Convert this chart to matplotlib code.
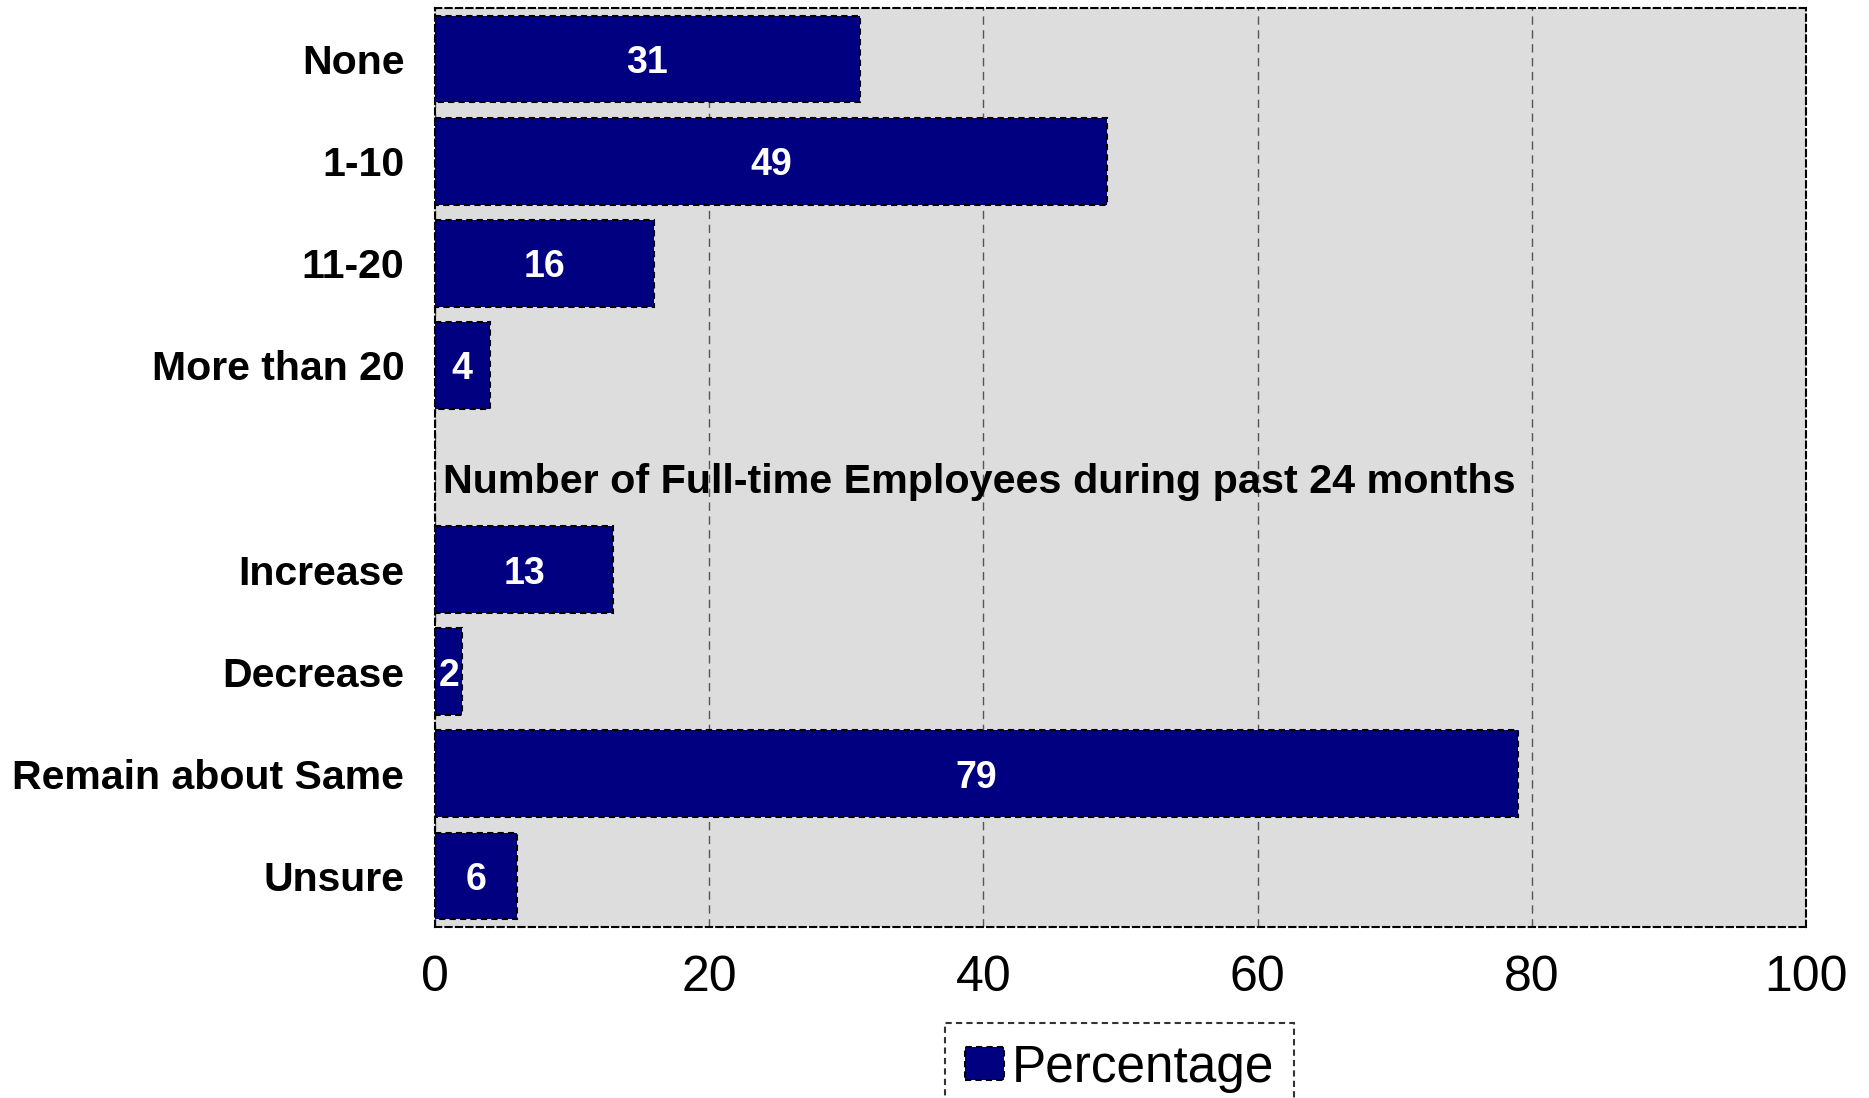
import matplotlib
matplotlib.use("Agg")
import matplotlib.pyplot as plt
from matplotlib.patches import Patch

categories = ["None", "1-10", "11-20", "More than 20", "",
              "Increase", "Decrease", "Remain about Same", "Unsure"]
values = [31, 49, 16, 4, None, 13, 2, 79, 6]
section_title = "Number of Full-time Employees during past 24 months"
xticks = [0, 20, 40, 60, 80, 100]
series_name = "Percentage"

plt.rcParams['font.family'] = ['Liberation Sans', 'DejaVu Sans']

fig = plt.figure(figsize=(18.69, 10.98), dpi=100)
ax = fig.add_axes([0.2327, 0.1557, 0.7336, 0.837])
ax.set_facecolor("#DDDDDD")

ypos = list(range(len(categories)))
for y, v in zip(ypos, values):
    if v is None:
        continue
    ax.barh(y, v, height=0.85, color="#000080", edgecolor="black",
            linestyle=(0, (3, 2)), linewidth=1.5, zorder=3)
    ax.text(v / 2, y, str(v), color="white", fontsize=27, fontweight="bold",
            ha="center", va="center_baseline", zorder=4)

ax.text(0.6, 4.1, section_title, fontsize=29.7, fontweight="bold",
        ha="left", va="center_baseline", zorder=4)

ax.set_xlim(0, 100)
ax.set_ylim(len(categories) - 0.5, -0.5)
ax.set_xticks(xticks)
ax.set_xticklabels([str(t) for t in xticks], fontsize=36)
ax.set_yticks(ypos)
ax.set_yticklabels(categories, fontsize=29.5, fontweight="bold")
ax.tick_params(axis="both", length=0)
ax.tick_params(axis="y", pad=22)
ax.tick_params(axis="x", pad=20)

ax.grid(axis="x", linestyle=(0, (6, 4)), color="#555555", linewidth=1.0, zorder=1)
ax.grid(axis="y", visible=False)
ax.set_axisbelow(True)

for sp in ax.spines.values():
    sp.set_linestyle((0, (3, 2)))
    sp.set_linewidth(1.5)
    sp.set_color("black")

handle = Patch(facecolor="#000080", edgecolor="black", linestyle=(0, (3, 2)), linewidth=1.5)
leg = fig.legend([handle], [series_name], loc="upper center",
                 bbox_to_anchor=(0.599, 0.0683), bbox_transform=fig.transFigure,
                 fontsize=37, frameon=True, fancybox=False, handlelength=0.75,
                 handleheight=0.6, handletextpad=0.15, borderpad=0.4,
                 borderaxespad=0)
fr = leg.get_frame()
fr.set_edgecolor("black")
fr.set_linestyle((0, (3, 2)))
fr.set_linewidth(1.5)
fr.set_facecolor("white")

fig.savefig("out.png", dpi=100)
